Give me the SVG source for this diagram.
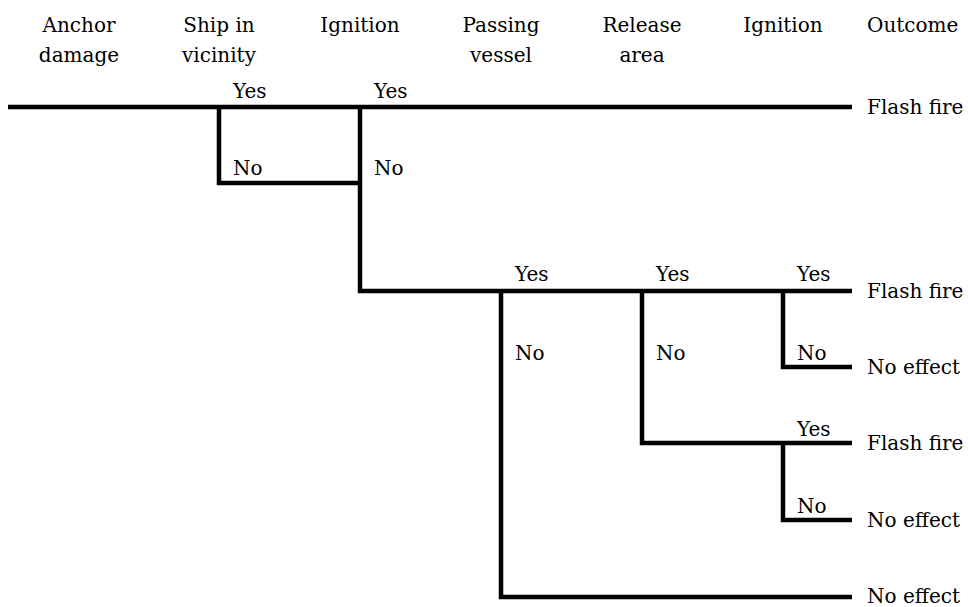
<svg xmlns="http://www.w3.org/2000/svg" width="968" height="607" viewBox="0 0 968 607">
  <style>
    text { font-family: "DejaVu Serif", "Liberation Serif", serif; font-size: 20px; fill: #000; }
    .hd { text-anchor: middle; }
    .br { fill: none; stroke: #000; stroke-width: 4.5; stroke-linejoin: miter; stroke-linecap: butt; }
  </style>
  <rect width="968" height="607" fill="#fff"/>

  <!-- column headings -->
  <g id="headers">
    <text class="hd" x="79" y="32">Anchor</text>
    <text class="hd" x="79" y="62">damage</text>
    <text class="hd" x="219" y="32">Ship in</text>
    <text class="hd" x="219" y="62">vicinity</text>
    <text class="hd" x="360" y="32">Ignition</text>
    <text class="hd" x="501" y="32">Passing</text>
    <text class="hd" x="501" y="62">vessel</text>
    <text class="hd" x="642" y="32">Release</text>
    <text class="hd" x="642" y="62">area</text>
    <text class="hd" x="783" y="32">Ignition</text>
    <text x="867" y="32">Outcome</text>
  </g>

  <!-- tree branches -->
  <g id="connectors">
    <path class="br" d="M8,107 H852"/>
    <path class="br" d="M219,107 V183 H360"/>
    <path class="br" d="M360,107 V291 H852"/>
    <path class="br" d="M501,291 V597 H852"/>
    <path class="br" d="M642,291 V443 H852"/>
    <path class="br" d="M783,291 V367 H852"/>
    <path class="br" d="M783,443 V520 H852"/>
  </g>

  <!-- branch labels -->
  <g id="n-ship">
    <text x="233" y="98">Yes</text>
    <text x="233" y="175">No</text>
  </g>
  <g id="n-ignition1">
    <text x="374" y="98">Yes</text>
    <text x="374" y="175">No</text>
  </g>
  <g id="n-passing">
    <text x="515" y="281">Yes</text>
    <text x="515" y="360">No</text>
  </g>
  <g id="n-release">
    <text x="656" y="281">Yes</text>
    <text x="656" y="360">No</text>
  </g>
  <g id="n-ignition2a">
    <text x="797" y="281">Yes</text>
    <text x="797" y="360">No</text>
  </g>
  <g id="n-ignition2b">
    <text x="797" y="436">Yes</text>
    <text x="797" y="513">No</text>
  </g>

  <!-- outcomes -->
  <g id="outcomes">
    <text x="867" y="114">Flash fire</text>
    <text x="867" y="298">Flash fire</text>
    <text x="867" y="374">No effect</text>
    <text x="867" y="450">Flash fire</text>
    <text x="867" y="527">No effect</text>
    <text x="867" y="603">No effect</text>
  </g>
</svg>
